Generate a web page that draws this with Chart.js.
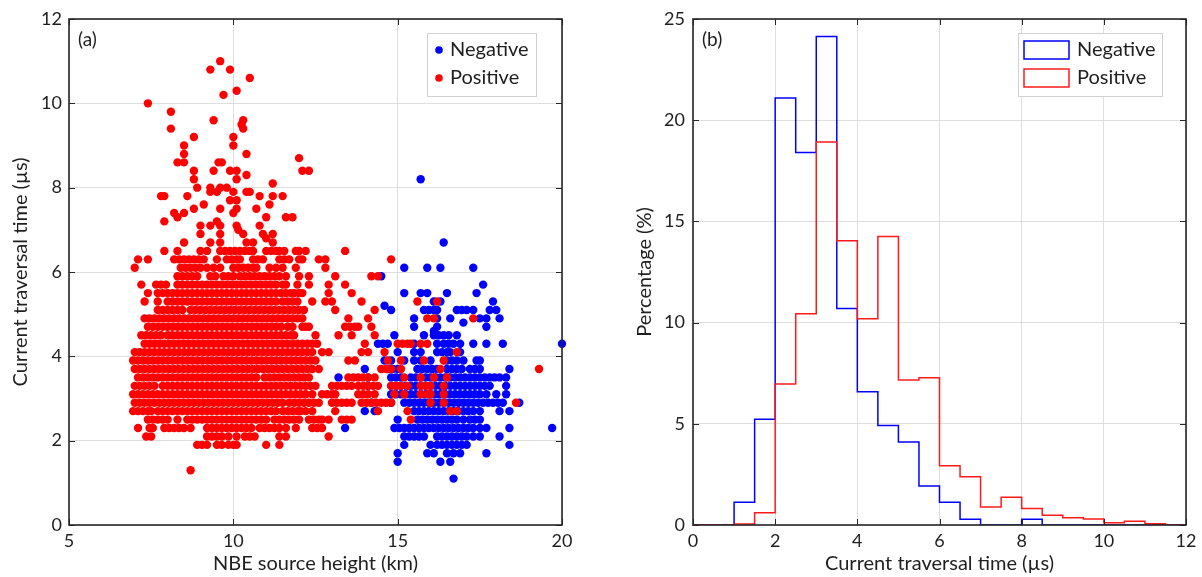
<!DOCTYPE html>
<html><head><meta charset="utf-8">
<script src="https://cdn.jsdelivr.net/npm/chart.js@4.4.1/dist/chart.umd.min.js"></script>
<style>
html,body{margin:0;padding:0;background:#fff;overflow:hidden;width:1202px;height:577px}
#wrapA{position:absolute;left:0;top:0;width:600px;height:577px}
#wrapB{position:absolute;left:600px;top:0;width:602px;height:577px}
</style></head><body>
<div id="wrapA"><canvas id="cA" width="600" height="577"></canvas></div>
<div id="wrapB"><canvas id="cB" width="602" height="577"></canvas></div>
<script>
// ---------- Panel (a): scatter data, rows of [current traversal time (us), [NBE source heights (km)]] ----------
const negativeRows = [
  [8.2, [15.7]],
  [6.7, [16.4]],
  [6.1, [15.2, 15.9, 16.3, 17.3]],
  [5.9, [14.5]],
  [5.7, [17.6]],
  [5.5, [15.2, 15.7, 15.9, 16.5, 17.4]],
  [5.3, [16.1, 16.3, 17.9]],
  [5.2, [14.6]],
  [5.1, [14.8, 15.8, 15.95, 16.1, 16.2, 16.8, 16.95, 17.1, 17.3, 17.8, 18.0]],
  [4.9, [15.5, 16.2, 16.6, 17.5, 17.7, 18.1]],
  [4.8, [17.0]],
  [4.7, [15.5, 16.2, 17.7]],
  [4.6, [16.1]],
  [4.5, [14.9, 15.8, 16.1, 16.25, 16.4, 16.55, 16.8]],
  [4.3, [14.4, 14.55, 14.7, 15.5, 16.2, 16.4, 16.55, 16.7, 16.9, 17.3, 17.7, 18.2, 20.0]],
  [4.1, [15.0, 15.5, 15.7, 16.2, 16.35, 16.5, 16.6, 16.9]],
  [3.9, [14.6, 14.8, 15.2, 15.5, 15.7, 16.0, 16.5, 16.65, 16.8, 17.0, 17.4, 17.5]],
  [3.7, [14.0, 14.7, 14.85, 15.0, 15.6, 15.75, 15.9, 16.05, 16.2, 16.5, 16.65, 16.8, 16.95, 17.2, 17.35, 17.5, 18.4]],
  [3.5, [13.2, 14.1, 14.8, 14.95, 15.1, 15.4, 15.55, 15.7, 15.85, 16.0, 16.15, 16.3, 16.45, 16.6, 16.75, 16.9, 17.05, 17.2, 17.35, 17.5, 17.65, 17.8, 17.95, 18.1, 18.3]],
  [3.3, [14.1, 14.8, 14.95, 15.1, 15.25, 15.4, 15.55, 15.7, 15.85, 16.0, 16.15, 16.3, 16.45, 16.6, 16.75, 16.9, 17.05, 17.2, 17.35, 17.5, 17.65, 17.8, 18.3]],
  [3.1, [14.8, 14.95, 15.1, 15.25, 15.4, 15.55, 15.7, 15.85, 16.0, 16.15, 16.3, 16.45, 16.6, 16.75, 16.9, 17.05, 17.2, 17.35, 17.5, 17.7, 18.0, 18.3]],
  [2.9, [14.2, 14.8, 15.2, 15.35, 15.5, 15.65, 15.8, 15.95, 16.1, 16.25, 16.4, 16.55, 16.7, 16.85, 17.0, 17.15, 17.3, 17.45, 17.6, 17.75, 17.9, 18.05, 18.2, 18.7]],
  [2.7, [14.0, 14.3, 15.5, 15.65, 15.8, 15.95, 16.1, 16.25, 16.4, 16.55, 16.7, 16.85, 17.0, 17.15, 17.3, 17.5, 18.1, 18.4]],
  [2.5, [15.0, 15.6, 15.75, 15.9, 16.05, 16.2, 16.35, 16.5, 16.65, 16.8, 17.0, 17.2, 17.35, 17.5]],
  [2.3, [13.4, 14.9, 15.05, 15.2, 15.35, 15.5, 15.65, 15.8, 15.95, 16.1, 16.25, 16.4, 16.55, 16.7, 16.85, 17.0, 17.15, 17.3, 17.5, 17.7, 18.4, 19.7]],
  [2.1, [15.2, 15.35, 15.5, 15.65, 15.8, 16.2, 16.35, 16.5, 16.65, 16.8, 16.95, 17.1, 17.3, 17.5, 18.1]],
  [1.9, [15.2, 16.0, 16.2, 16.35, 16.5, 16.65, 16.8, 16.95, 17.1, 18.4]],
  [1.7, [15.0, 15.9, 16.1, 16.5, 16.7, 16.9, 17.7]],
  [1.5, [15.0, 16.3, 16.6]],
  [1.1, [16.7]]
];

const positiveRows = [
  [11.0, [9.6]],
  [10.8, [9.3, 9.9]],
  [10.6, [10.5]],
  [10.3, [10.1]],
  [10.2, [9.7]],
  [10.0, [7.4]],
  [9.8, [8.1]],
  [9.6, [9.4, 10.3]],
  [9.5, [10.25]],
  [9.4, [8.1, 10.3]],
  [9.2, [8.8, 10.0]],
  [9.0, [8.5, 10.0]],
  [8.8, [8.5, 10.4]],
  [8.7, [12.0]],
  [8.6, [8.3, 8.5, 9.55, 9.65]],
  [8.4, [8.8, 9.4, 9.9, 10.1, 12.1, 12.3]],
  [8.3, [10.4]],
  [8.2, [8.8, 10.1]],
  [8.1, [11.2]],
  [8.0, [8.9, 9.3, 9.6, 9.8]],
  [7.9, [9.3, 9.5, 10.0, 10.4, 10.5]],
  [7.8, [7.8, 7.9, 8.6, 10.8, 11.2, 11.5]],
  [7.7, [9.9, 10.1]],
  [7.6, [9.1, 11.1]],
  [7.5, [8.8, 9.6, 10.1, 10.7]],
  [7.4, [8.2, 8.5, 10.0]],
  [7.3, [8.3, 11.0, 11.6, 11.8]],
  [7.2, [7.9, 9.5]],
  [7.1, [9.0, 9.3, 9.6, 10.1, 10.8]],
  [7.0, [10.15]],
  [6.9, [9.0, 9.6, 10.3, 10.9, 11.2]],
  [6.8, [11.0]],
  [6.7, [8.5, 9.3, 9.6, 10.4, 10.6, 11.2]],
  [6.5, [7.9, 8.3, 9.0, 9.2, 9.6, 9.75, 9.9, 10.05, 10.2, 10.35, 10.5, 10.6, 11.0, 11.15, 11.3, 11.4, 11.55, 11.9, 12.0, 12.2, 13.4]],
  [6.3, [7.1, 7.4, 8.2, 8.35, 8.5, 8.65, 8.8, 8.95, 9.1, 9.5, 9.8, 9.95, 10.1, 10.2, 10.6, 10.75, 10.9, 11.4, 11.55, 11.7, 12.0, 12.1, 12.6, 12.8, 14.8]],
  [6.1, [7.0, 8.4, 8.55, 8.7, 8.85, 9.0, 9.2, 9.4, 9.6, 10.0, 10.15, 10.3, 10.45, 10.6, 10.7, 11.1, 11.3, 11.5, 11.9, 12.8]],
  [5.9, [8.3, 8.45, 8.6, 8.75, 8.9, 9.3, 9.45, 9.7, 9.85, 10.0, 10.2, 10.35, 10.5, 10.65, 10.8, 10.95, 11.1, 11.25, 11.4, 11.6, 12.0, 12.3, 13.1, 14.2, 14.4]],
  [5.7, [7.2, 7.65, 7.8, 7.95, 8.3, 8.45, 8.6, 8.75, 8.9, 9.05, 9.2, 9.35, 9.5, 9.65, 9.8, 9.95, 10.1, 10.25, 10.4, 10.55, 10.7, 10.85, 11.0, 11.15, 11.3, 11.5, 11.6, 11.95, 12.3, 12.9, 13.4]],
  [5.5, [7.4, 7.7, 7.85, 8.0, 8.15, 8.3, 8.45, 8.6, 8.75, 8.9, 9.05, 9.2, 9.35, 9.5, 9.65, 9.8, 9.95, 10.1, 10.25, 10.4, 10.55, 10.7, 10.85, 11.0, 11.15, 11.3, 11.45, 11.6, 11.75, 11.85, 12.0, 12.1, 12.9, 13.6]],
  [5.3, [7.3, 7.7, 8.0, 8.15, 8.3, 8.45, 8.6, 8.75, 8.9, 9.05, 9.2, 9.35, 9.5, 9.65, 9.8, 9.95, 10.1, 10.25, 10.4, 10.55, 10.7, 10.85, 11.0, 11.15, 11.3, 11.5, 11.65, 11.8, 11.95, 12.4, 12.8, 13.0, 13.9, 15.6, 16.2]],
  [5.1, [7.7, 7.85, 8.0, 8.15, 8.3, 8.45, 8.7, 8.85, 9.0, 9.15, 9.3, 9.45, 9.6, 9.75, 9.9, 10.05, 10.2, 10.35, 10.5, 10.65, 10.8, 10.95, 11.1, 11.25, 11.4, 11.55, 11.7, 11.85, 12.0, 12.15, 13.1, 14.3]],
  [4.9, [7.3, 7.45, 7.6, 7.75, 7.9, 8.05, 8.2, 8.35, 8.5, 8.65, 8.8, 8.95, 9.1, 9.25, 9.4, 9.55, 9.7, 9.85, 10.0, 10.15, 10.3, 10.45, 10.6, 10.75, 10.9, 11.05, 11.2, 11.35, 11.5, 11.65, 11.8, 11.95, 12.1, 13.5, 14.1, 15.9, 16.1, 17.3]],
  [4.7, [7.4, 7.55, 7.7, 7.85, 8.0, 8.15, 8.3, 8.45, 8.6, 8.75, 8.9, 9.05, 9.2, 9.35, 9.5, 9.65, 9.8, 9.95, 10.1, 10.25, 10.4, 10.55, 10.7, 10.85, 11.0, 11.15, 11.3, 11.45, 11.65, 11.8, 12.1, 12.2, 12.3, 13.4, 13.55, 13.7, 13.8, 14.2]],
  [4.5, [7.2, 7.35, 7.5, 7.65, 7.8, 8.0, 8.15, 8.3, 8.45, 8.6, 8.75, 8.9, 9.05, 9.2, 9.35, 9.5, 9.65, 9.8, 9.95, 10.1, 10.25, 10.4, 10.55, 10.7, 10.85, 11.0, 11.15, 11.3, 11.45, 11.6, 11.75, 11.85, 12.5, 13.2, 13.6, 14.3]],
  [4.3, [7.3, 7.45, 7.6, 7.75, 7.9, 8.05, 8.2, 8.35, 8.5, 8.65, 8.8, 8.95, 9.1, 9.25, 9.4, 9.55, 9.7, 9.85, 10.0, 10.15, 10.3, 10.45, 10.6, 10.75, 10.9, 11.05, 11.2, 11.35, 11.5, 11.65, 11.8, 11.95, 12.1, 12.25, 12.4, 12.55, 14.0, 15.0, 15.15, 15.3, 15.4, 15.7, 15.9]],
  [4.1, [7.0, 7.15, 7.3, 7.45, 7.6, 7.75, 7.9, 8.05, 8.2, 8.35, 8.5, 8.65, 8.8, 8.95, 9.1, 9.25, 9.4, 9.55, 9.7, 9.85, 10.0, 10.15, 10.3, 10.45, 10.6, 10.75, 10.9, 11.05, 11.2, 11.35, 11.5, 11.65, 11.8, 11.95, 12.1, 12.25, 12.4, 12.7, 12.9, 13.9, 14.1, 14.6, 16.8]],
  [3.9, [6.95, 7.1, 7.25, 7.4, 7.55, 7.7, 7.85, 8.0, 8.15, 8.3, 8.45, 8.6, 8.75, 8.9, 9.05, 9.2, 9.35, 9.5, 9.65, 9.8, 9.95, 10.1, 10.25, 10.4, 10.55, 10.7, 10.85, 11.0, 11.15, 11.3, 11.45, 11.6, 11.75, 11.9, 12.05, 12.2, 12.35, 12.5, 13.5, 13.7, 14.7, 15.1, 15.8, 16.4]],
  [3.7, [7.0, 7.15, 7.3, 7.45, 7.6, 7.75, 7.9, 8.05, 8.2, 8.35, 8.5, 8.65, 8.8, 8.95, 9.1, 9.25, 9.4, 9.55, 9.7, 9.85, 10.0, 10.15, 10.3, 10.45, 10.6, 10.75, 10.9, 11.05, 11.2, 11.35, 11.5, 11.65, 11.8, 11.95, 12.1, 12.25, 12.4, 12.6, 14.5, 14.65, 14.8, 15.1, 16.3, 19.3]],
  [3.5, [7.1, 7.25, 7.4, 7.55, 7.7, 7.85, 8.0, 8.15, 8.3, 8.45, 8.6, 8.75, 8.9, 9.05, 9.2, 9.35, 9.5, 9.65, 9.8, 9.95, 10.1, 10.25, 10.4, 10.55, 10.7, 10.95, 11.1, 11.25, 11.4, 11.55, 11.7, 11.85, 12.0, 12.15, 12.3, 13.5, 13.65, 13.8, 13.95, 14.1, 14.3, 15.2, 15.7, 16.1, 16.5]],
  [3.3, [7.0, 7.15, 7.3, 7.45, 7.6, 7.85, 8.0, 8.15, 8.3, 8.45, 8.6, 8.75, 8.9, 9.05, 9.2, 9.35, 9.5, 9.65, 9.8, 9.95, 10.1, 10.25, 10.4, 10.55, 10.7, 10.85, 11.0, 11.15, 11.3, 11.45, 11.6, 11.75, 11.9, 12.05, 12.2, 12.35, 12.5, 13.0, 13.15, 13.3, 13.45, 13.6, 13.8, 13.95, 14.1, 14.25, 14.4, 14.8, 14.95, 15.1, 15.3, 15.7, 15.85, 16.0, 16.4]],
  [3.1, [6.95, 7.1, 7.25, 7.4, 7.55, 7.7, 7.85, 8.0, 8.15, 8.3, 8.45, 8.6, 8.75, 8.9, 9.05, 9.2, 9.35, 9.5, 9.65, 9.8, 9.95, 10.1, 10.25, 10.4, 10.55, 10.7, 10.85, 11.0, 11.15, 11.3, 11.45, 11.6, 11.75, 11.9, 12.05, 12.2, 12.4, 12.7, 12.85, 13.0, 13.1, 13.8, 13.95, 14.1, 14.3, 14.9, 15.2, 15.7, 15.9, 16.0, 16.4]],
  [2.9, [7.0, 7.15, 7.3, 7.45, 7.6, 7.75, 7.9, 8.05, 8.2, 8.35, 8.5, 8.65, 8.8, 8.95, 9.1, 9.25, 9.4, 9.55, 9.7, 9.85, 10.0, 10.15, 10.3, 10.45, 10.6, 10.75, 10.9, 11.05, 11.2, 11.35, 11.5, 11.7, 11.85, 12.0, 12.15, 12.3, 12.45, 12.6, 13.0, 13.15, 13.3, 13.45, 13.6, 13.9, 14.05, 14.2, 14.35, 14.5, 14.65, 14.8, 16.0, 16.4, 18.6]],
  [2.7, [6.95, 7.1, 7.25, 7.4, 7.5, 7.7, 7.85, 8.0, 8.15, 8.3, 8.45, 8.6, 8.75, 8.9, 9.05, 9.2, 9.35, 9.5, 9.65, 9.8, 9.95, 10.1, 10.25, 10.4, 10.55, 10.7, 10.85, 11.0, 11.15, 11.3, 11.5, 11.65, 11.8, 11.95, 12.05, 12.2, 12.4, 13.1, 14.4, 15.3, 16.6, 16.8]],
  [2.5, [7.4, 7.55, 7.7, 7.85, 8.0, 8.3, 8.6, 8.75, 8.9, 9.05, 9.2, 9.35, 9.5, 9.65, 9.8, 9.95, 10.1, 10.25, 10.4, 10.55, 10.7, 10.85, 11.0, 11.25, 11.4, 11.55, 11.7, 11.85, 12.0, 12.3, 12.45, 12.6, 12.7, 12.9, 13.3, 13.45, 13.6, 15.4]],
  [2.3, [7.1, 7.45, 7.55, 7.9, 8.05, 8.2, 8.35, 8.5, 8.7, 9.2, 9.35, 9.5, 9.65, 9.8, 9.95, 10.1, 10.25, 10.4, 10.55, 10.8, 10.95, 11.1, 11.25, 11.4, 11.6, 11.9, 12.4, 12.55, 12.7]],
  [2.1, [7.35, 7.5, 9.2, 9.35, 9.5, 9.65, 9.85, 10.1, 10.35, 10.5, 10.65, 11.4, 11.6, 12.9]],
  [1.9, [8.9, 9.05, 9.2, 9.5, 9.65, 9.85, 10.0, 10.1, 11.0, 11.4]],
  [1.3, [8.7]]
];

// ---------- Panel (b): histogram (0.5 us bins, percentage) ----------
const binEdges = [0, 0.5, 1, 1.5, 2, 2.5, 3, 3.5, 4, 4.5, 5, 5.5, 6, 6.5, 7, 7.5, 8, 8.5, 9, 9.5, 10, 10.5, 11, 11.5, 12];
const negativePct = [0, 0, 1.12, 5.22, 21.1, 18.4, 24.13, 10.7, 6.58, 4.92, 4.1, 1.93, 1.12, 0.28, 0, 0, 0.28, 0, 0, 0, 0, 0, 0, 0];
const positivePct = [0, 0, 0.05, 0.61, 6.97, 10.44, 18.92, 14.05, 10.19, 14.26, 7.16, 7.28, 2.93, 2.39, 0.89, 1.37, 0.82, 0.48, 0.36, 0.3, 0.11, 0.18, 0.06, 0];

const FONT = 'Lato';
const TXT = '#1f1f1f';
const GRID = '#dedede';
const AXIS = '#262626';

function rowsToPoints(rows) {
  const pts = [];
  rows.forEach(([y, xs]) => xs.forEach(x => pts.push({ x: x, y: y })));
  return pts;
}
function histPoints(values) {
  const pts = values.map((v, i) => ({ x: binEdges[i], y: v }));
  pts.push({ x: binEdges[binEdges.length - 1], y: 0 });
  return pts;
}

const framePlugin = {
  id: 'frame',
  afterDraw(chart, args, opts) {
    const { ctx, chartArea: a } = chart;
    const sx = chart.scales.x, sy = chart.scales.y;
    ctx.save();
    ctx.strokeStyle = AXIS;
    ctx.lineWidth = 1;
    ctx.beginPath();
    const tl = 6;
    sx.ticks.forEach(t => {
      const px = Math.round(sx.getPixelForValue(t.value)) + 0.5;
      ctx.moveTo(px, a.bottom); ctx.lineTo(px, a.bottom - tl);
      ctx.moveTo(px, a.top); ctx.lineTo(px, a.top + tl);
    });
    sy.ticks.forEach(t => {
      const py = Math.round(sy.getPixelForValue(t.value)) + 0.5;
      ctx.moveTo(a.left, py); ctx.lineTo(a.left + tl, py);
      ctx.moveTo(a.right, py); ctx.lineTo(a.right - tl, py);
    });
    ctx.stroke();
    ctx.lineWidth = 1.6;
    ctx.strokeRect(a.left, a.top, a.right - a.left, a.bottom - a.top);
    ctx.fillStyle = TXT;
    ctx.font = '19px ' + FONT;
    ctx.textBaseline = 'middle';
    ctx.textAlign = 'left';
    ctx.fillText(opts.label, a.left + 9, a.top + 21);
    const L = opts.legend;
    ctx.fillStyle = '#ffffff';
    ctx.fillRect(L.x, L.y, L.w, L.h);
    ctx.strokeStyle = '#d0d0d0';
    ctx.lineWidth = 1;
    ctx.strokeRect(L.x + 0.5, L.y + 0.5, L.w, L.h);
    ctx.font = '20px ' + FONT;
    L.items.forEach((it, i) => {
      const cy = L.y + 17 + i * 28;
      if (L.kind === 'dot') {
        ctx.fillStyle = it.color;
        ctx.beginPath(); ctx.arc(L.x + 12, cy, 3.8, 0, Math.PI * 2); ctx.fill();
      } else {
        ctx.strokeStyle = it.color; ctx.lineWidth = 1.5;
        ctx.strokeRect(L.x + 6, cy - 9, 45, 18);
      }
      ctx.fillStyle = TXT;
      ctx.fillText(it.text, L.x + L.tx, cy);
    });
    ctx.restore();
  }
};

function axisCommon(min, max, step, title, titlePad) {
  return {
    type: 'linear', min: min, max: max,
    ticks: { stepSize: step, color: TXT, font: { family: FONT, size: 18 }, padding: 6 },
    grid: { color: GRID, lineWidth: 1, drawTicks: false },
    border: { display: false },
    title: { display: true, text: title, color: TXT, font: { family: FONT, size: 20 }, padding: titlePad }
  };
}

// ---------- Chart (a) ----------
const xa = axisCommon(5, 20, 5, 'NBE source height (km)', { top: 0, bottom: 1 });
xa.afterFit = s => { s.height = 52; };
xa.ticks.padding = 5;
const ya = axisCommon(0, 12, 2, 'Current traversal time (µs)', { top: 9, bottom: 0 });
ya.afterFit = s => { s.width = 69; };
ya.ticks.padding = 7;

new Chart(document.getElementById('cA'), {
  type: 'scatter',
  data: {
    datasets: [
      { label: 'Negative', data: rowsToPoints(negativeRows), backgroundColor: '#0000ff', borderWidth: 0, pointRadius: 4.2, pointHoverRadius: 4.2, order: 1, clip: false },
      { label: 'Positive', data: rowsToPoints(positiveRows), backgroundColor: '#ff0000', borderWidth: 0, pointRadius: 4.2, pointHoverRadius: 4.2, order: 0, clip: false }
    ]
  },
  options: {
    responsive: false, animation: false, events: [],
    layout: { padding: { left: 0, top: 19, right: 38, bottom: 0 } },
    scales: { x: xa, y: ya },
    plugins: {
      legend: { display: false }, tooltip: { enabled: false },
      frame: {
        label: '(a)',
        legend: { kind: 'dot', x: 427, y: 33, w: 109, h: 63, tx: 23,
          items: [{ text: 'Negative', color: '#0000ff' }, { text: 'Positive', color: '#ff0000' }] }
      }
    }
  },
  plugins: [framePlugin]
});

// ---------- Chart (b) ----------
const xb = axisCommon(0, 12, 2, 'Current traversal time (µs)', { top: 0, bottom: 1 });
xb.afterFit = s => { s.height = 52; };
xb.ticks.padding = 5;
const yb = axisCommon(0, 25, 5, 'Percentage (%)', { top: 33, bottom: 0 });
yb.afterFit = s => { s.width = 93; };
yb.ticks.padding = 8;

new Chart(document.getElementById('cB'), {
  type: 'line',
  data: {
    datasets: [
      { label: 'Negative', data: histPoints(negativePct), borderColor: '#0000ff', borderWidth: 1.5, stepped: 'before', pointRadius: 0, fill: false, order: 1 },
      { label: 'Positive', data: histPoints(positivePct), borderColor: '#ff1a1a', borderWidth: 1.5, stepped: 'before', pointRadius: 0, fill: false, order: 0 }
    ]
  },
  options: {
    responsive: false, animation: false, events: [],
    layout: { padding: { left: 0, top: 19, right: 16, bottom: 0 } },
    scales: { x: xb, y: yb },
    plugins: {
      legend: { display: false }, tooltip: { enabled: false },
      frame: {
        label: '(b)',
        legend: { kind: 'box', x: 418, y: 33, w: 144, h: 63, tx: 59,
          items: [{ text: 'Negative', color: '#0000ff' }, { text: 'Positive', color: '#ff1a1a' }] }
      }
    }
  },
  plugins: [framePlugin]
});
</script>
</body></html>
